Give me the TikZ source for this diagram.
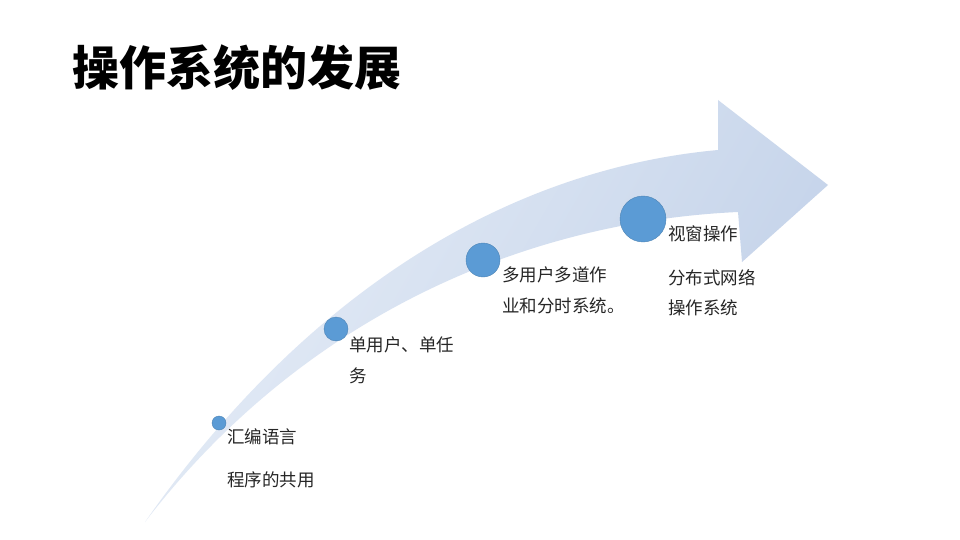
\documentclass[tikz,border=0pt]{standalone}
\usepackage{fontspec}
\setmainfont{Noto Sans CJK SC}
\definecolor{arrowc}{HTML}{C3D2E9}
\definecolor{arrowl}{HTML}{E6EDF7}
\definecolor{dotc}{HTML}{5B9BD5}
\begin{document}
\begin{tikzpicture}[x=1pt,y=-1pt,
  dot/.style={circle,fill=dotc,draw=dotc!85!black,line width=0.4pt,inner sep=0pt},
  lbl/.style={anchor=west,inner sep=0pt,font=\fontsize{17.5}{20}\selectfont,text=black!85}]
\useasboundingbox[fill=white] (0,0) rectangle (960,540);
\shade[left color=arrowl,right color=arrowc,shading angle=60]
 (145,522) .. controls (300,300) and (500,170) .. (718,150) -- (718,100) -- (828,185) -- (742,262) -- (738,212)
 .. controls (520,222) and (300,320) .. (145,522) -- cycle;
\node[anchor=west,inner sep=0pt,font=\fontsize{47}{50}\selectfont\bfseries] (title) at (72,68) {操作系统的发展};
\node[dot,minimum size=14pt] (d1) at (219,423) {};
\node[dot,minimum size=24pt] (d2) at (336,329) {};
\node[dot,minimum size=34pt] (d3) at (483,260) {};
\node[dot,minimum size=46pt] (d4) at (643,219) {};
\node[lbl] (t1) at (227,437) {汇编语言};
\node[lbl] (t2) at (227,480) {程序的共用};
\node[lbl] (t3) at (349,345) {单用户、单任};
\node[lbl] (t4) at (349,376) {务};
\node[lbl] (t5) at (502,275) {多用户多道作};
\node[lbl] (t6) at (502,306) {业和分时系统。};
\node[lbl] (t7) at (668,234) {视窗操作};
\node[lbl] (t8) at (668,278) {分布式网络};
\node[lbl] (t9) at (668,308) {操作系统};
\end{tikzpicture}
\end{document}
